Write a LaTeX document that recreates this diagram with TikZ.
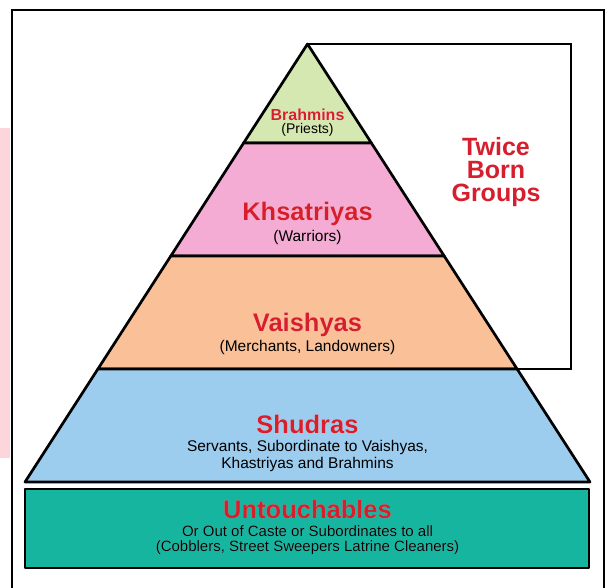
\documentclass[tikz,border=0pt]{standalone}
\usepackage{fontspec}
\usepackage[outline]{contour}
\setmainfont{Liberation Sans}
\contourlength{1.2pt}
\begin{document}
\definecolor{casteRed}{RGB}{214,30,45}
\definecolor{brahminGreen}{RGB}{214,232,178}
\definecolor{kshatriyaPink}{RGB}{245,172,212}
\definecolor{vaishyaPeach}{RGB}{250,192,152}
\definecolor{shudraBlue}{RGB}{156,204,238}
\definecolor{outcasteTeal}{RGB}{22,181,160}
\definecolor{edgePink}{RGB}{252,214,218}
\colorlet{haloTeal}{white!55!outcasteTeal}
\begin{tikzpicture}[x=1pt,y=-1pt,
  band/.style={draw=black,line width=2.7pt,line join=round},
  title/.style={text=casteRed,font=\bfseries\fontsize{25.5}{27}\selectfont,inner sep=0pt},
  subtitle/.style={text=black,font=\fontsize{15.5}{16.5}\selectfont,inner sep=0pt,align=center}]
  % page area
  \useasboundingbox (0,0) rectangle (608,588);
  \clip (0,0) rectangle (608,588);
  \fill[white] (0,0) rectangle (608,588);
  \fill[edgePink] (0,128) rectangle (10,458);
  % outer frame
  \draw[line width=2.8pt] (12,620) -- (12,10) -- (604,10) -- (604,620);
  % bracket marking the twice born groups
  \draw[line width=2.7pt] (307.5,44) -- (571,44) -- (571,369) -- (517,369);
  % pyramid bands, top to bottom
  \draw[band,fill=brahminGreen] (307.5,44) -- (371.4,143) -- (243.6,143) -- cycle;
  \draw[band,fill=kshatriyaPink] (243.6,143) -- (371.4,143) -- (444.2,256) -- (170.8,256) -- cycle;
  \draw[band,fill=vaishyaPeach] (170.8,256) -- (444.2,256) -- (517.1,369) -- (97.9,369) -- cycle;
  \draw[band,fill=shudraBlue] (97.9,369) -- (517.1,369) -- (590,482) -- (25,482) -- cycle;
  % base block
  \draw[band,fill=outcasteTeal] (25,489) rectangle (589,568);
  % labels
  \node[title,font=\bfseries\fontsize{16}{18}\selectfont] (brahmins) at (307.5,115) {\contour{white}{Brahmins}};
  \node[subtitle,font=\fontsize{14}{16}\selectfont] (priests) at (307.5,130) {(Priests)};
  \node[title] (kshatriyas) at (307.5,214) {\contour{white}{Khsatriyas}};
  \node[subtitle] (warriors) at (307.5,237) {(Warriors)};
  \node[title] (vaishyas) at (307.5,325) {\contour{white}{Vaishyas}};
  \node[subtitle] (merchants) at (307.5,347) {(Merchants, Landowners)};
  \node[title] (shudras) at (307.5,424) {\contour{white}{Shudras}};
  \node[subtitle] (servants) at (307.5,456) {Servants, Subordinate to Vaishyas,\\Khastriyas and Brahmins};
  \node[title] (untouchables) at (307.5,509) {\contour{haloTeal}{Untouchables}};
  \node[subtitle,font=\fontsize{15}{15.5}\selectfont] (outcaste) at (307.5,540)
    {\contour{haloTeal}{Or Out of Caste or Subordinates to all}\\\contour{haloTeal}{(Cobblers, Street Sweepers Latrine Cleaners)}};
  \node[title,align=center,font=\bfseries\fontsize{25}{23}\selectfont] (twiceborn) at (496,172) {Twice\\Born\\Groups};
\end{tikzpicture}
\end{document}
